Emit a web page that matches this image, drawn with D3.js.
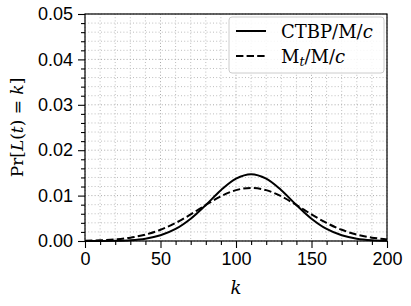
<!DOCTYPE html>
<html>
<head>
<meta charset="utf-8">
<script src="https://cdn.jsdelivr.net/npm/d3@7"></script>
<style>
  body { margin: 0; background: #fff; }
  svg { display: block; }
</style>
</head>
<body>
<svg id="chart"></svg>
<script>
// values, k every 10
const kValues = [0, 10, 20, 30, 40, 50, 60, 70, 80, 90, 100, 110, 120, 130, 140, 150, 160, 170, 180, 190, 200];
const ctbpProb = [0.00000, 0.00002, 0.00006, 0.00018, 0.00051, 0.00125, 0.00265, 0.00491, 0.00793, 0.01118, 0.01373, 0.01470, 0.01373, 0.01118, 0.00793, 0.00491, 0.00265, 0.00125, 0.00051, 0.00018, 0.00006];
const mtProb = [0.00006, 0.00016, 0.00035, 0.00074, 0.00141, 0.00247, 0.00397, 0.00586, 0.00793, 0.00984, 0.01120, 0.01170, 0.01120, 0.00984, 0.00793, 0.00586, 0.00397, 0.00247, 0.00141, 0.00074, 0.00035];
const xTicks = [0, 50, 100, 150, 200];
const yTicks = [0, 0.01, 0.02, 0.03, 0.04, 0.05];

const width = 411;
const height = 306;
const marginTop = 14;
const marginRight = 24;
const marginBottom = 65;
const marginLeft = 85;

const svg = d3.select("#chart")
    .attr("width", width)
    .attr("height", height)
    .attr("viewBox", [0, 0, width, height]);

const xScale = d3.scaleLinear([0, 200], [marginLeft, width - marginRight]);
const yScale = d3.scaleLinear([0, 0.05], [height - marginBottom, marginTop]);

const xMinor = d3.range(0, 201, 10);
const yMinor = d3.range(0, 26).map(i => i * 0.002);

// grid, dotted
const grid = svg.append("g");
grid.selectAll(".vx")
    .data(xMinor)
    .join("line")
    .attr("x1", d => xScale(d)).attr("x2", d => xScale(d))
    .attr("y1", marginTop).attr("y2", height - marginBottom)
    .attr("stroke", d => d % 50 === 0 ? "#a8a8a8" : "#bdbdbd")
    .attr("stroke-width", 1)
    .attr("stroke-dasharray", "1,2.2");
grid.selectAll(".hy")
    .data(yMinor)
    .join("line")
    .attr("y1", d => yScale(d)).attr("y2", d => yScale(d))
    .attr("x1", marginLeft).attr("x2", width - marginRight)
    .attr("stroke", (d, i) => i % 5 === 0 ? "#a8a8a8" : "#bdbdbd")
    .attr("stroke-width", 1)
    .attr("stroke-dasharray", "1,2.2");

// curves
const line = (ys) => d3.line()
    .x((d, i) => xScale(kValues[i]))
    .y(d => yScale(d))
    .curve(d3.curveCatmullRom.alpha(0.5))(ys);

svg.append("path")
    .attr("d", line(mtProb))
    .attr("fill", "none")
    .attr("stroke", "#000")
    .attr("stroke-width", 2)
    .attr("stroke-dasharray", "7.4,3.2");

svg.append("path")
    .attr("d", line(ctbpProb))
    .attr("fill", "none")
    .attr("stroke", "#000")
    .attr("stroke-width", 2);

// axes
const xAxis = svg.append("g")
    .attr("transform", `translate(0,${height - marginBottom})`)
    .call(d3.axisBottom(xScale).tickValues(xTicks).tickSize(7).tickPadding(4).tickFormat(d3.format("d")));
svg.append("g")
    .attr("transform", `translate(0,${height - marginBottom})`)
    .call(d3.axisBottom(xScale).tickValues(xMinor.filter(d => d % 50 !== 0)).tickSize(4).tickFormat(""))
    .call(g => g.select(".domain").remove());

const yAxis = svg.append("g")
    .attr("transform", `translate(${marginLeft},0)`)
    .call(d3.axisLeft(yScale).tickValues(yTicks).tickSize(7).tickPadding(5).tickFormat(d3.format(".2f")));
svg.append("g")
    .attr("transform", `translate(${marginLeft},0)`)
    .call(d3.axisLeft(yScale).tickValues(yMinor.filter((d, i) => i % 5 !== 0)).tickSize(4).tickFormat(""))
    .call(g => g.select(".domain").remove());

svg.selectAll(".tick line").attr("stroke", "#000").attr("stroke-width", 1.1);
[xAxis, yAxis].forEach(a => a.selectAll(".tick text")
    .attr("fill", "#000")
    .style("font-family", "'Liberation Sans', Arial, sans-serif")
    .style("font-size", "18px"));
xAxis.select(".domain").remove();
yAxis.select(".domain").remove();

// frame
svg.append("rect")
    .attr("x", marginLeft).attr("y", marginTop)
    .attr("width", width - marginLeft - marginRight)
    .attr("height", height - marginTop - marginBottom)
    .attr("fill", "none")
    .attr("stroke", "#000")
    .attr("stroke-width", 1.2);

// axis labels
const serif = "'DejaVu Serif', serif";
svg.append("text")
    .attr("x", (marginLeft + width - marginRight) / 2)
    .attr("y", 294)
    .attr("text-anchor", "middle")
    .style("font-family", serif)
    .style("font-size", "18px")
    .style("font-style", "italic")
    .text("k");

const yl = svg.append("text")
    .attr("transform", `translate(23,${(marginTop + height - marginBottom) / 2}) rotate(-90)`)
    .attr("text-anchor", "middle")
    .style("font-family", serif)
    .style("font-size", "17px");
yl.append("tspan").text("Pr[");
yl.append("tspan").style("font-style", "italic").text("L");
yl.append("tspan").text("(");
yl.append("tspan").style("font-style", "italic").text("t");
yl.append("tspan").text(") = ");
yl.append("tspan").style("font-style", "italic").text("k");
yl.append("tspan").text("]");

// legend
const legend = svg.append("g");
legend.append("rect")
    .attr("x", 229).attr("y", 17)
    .attr("width", 155).attr("height", 56)
    .attr("rx", 3)
    .attr("fill", "#fff")
    .attr("fill-opacity", 0.85)
    .attr("stroke", "#cccccc")
    .attr("stroke-width", 1);

const entries = [
    { dash: null, parts: [["CTBP/M/", false], ["c", true]] },
    { dash: "7.4,3.2", parts: [["M", false], ["t", true, true], ["/M/", false], ["c", true]] }
];
entries.forEach((e, i) => {
    const y = 31 + i * 25;
    legend.append("line")
        .attr("x1", 236).attr("x2", 266)
        .attr("y1", y).attr("y2", y)
        .attr("stroke", "#000")
        .attr("stroke-width", 2)
        .attr("stroke-dasharray", e.dash);
    const t = legend.append("text")
        .attr("x", 281).attr("y", y + 7)
        .style("font-family", serif)
        .style("font-size", "18px");
    e.parts.forEach(p => {
        const ts = t.append("tspan").text(p[0]);
        if (p[1]) ts.style("font-style", "italic");
        if (p[2]) ts.attr("dy", 3).style("font-size", "12.5px");
        else if (i === 1 && p[0] === "/M/") ts.attr("dy", -3);
    });
});
</script>
</body>
</html>
